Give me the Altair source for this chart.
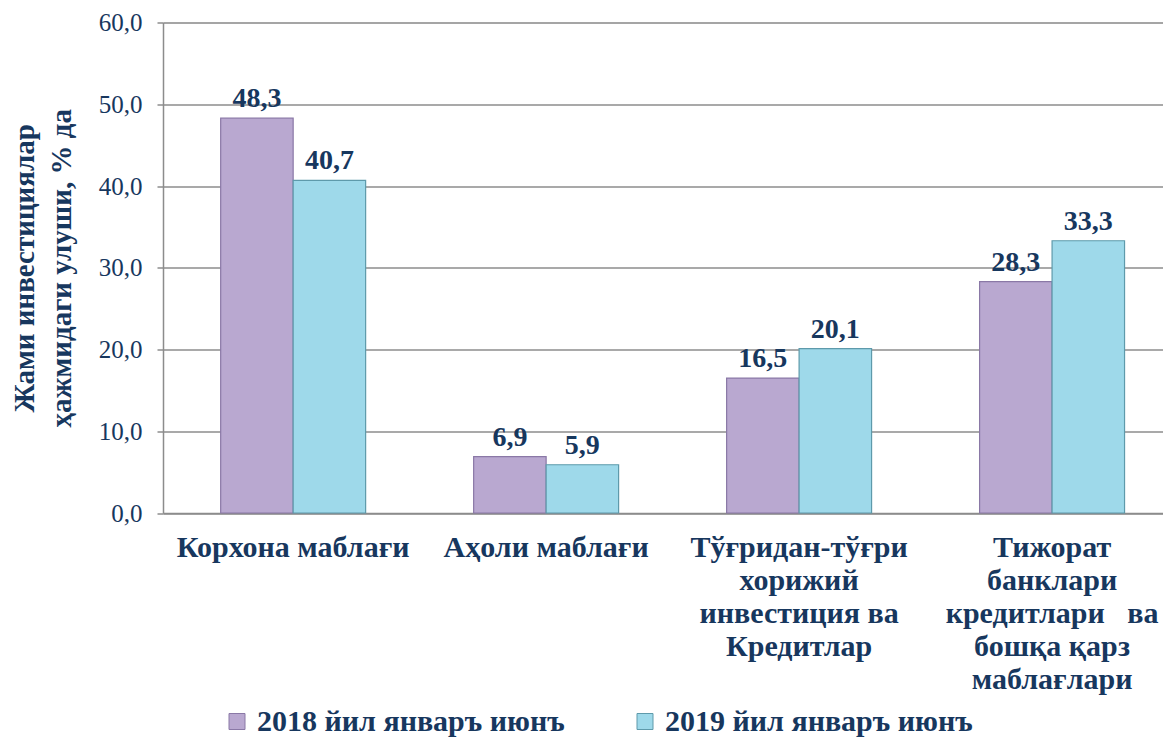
import altair as alt
import pandas as pd

categories = [
    "Корхона маблағи",
    "Аҳоли маблағи",
    "Тўғридан-тўғри|хорижий|инвестиция ва|Кредитлар",
    "Тижорат|банклари|кредитлари\u00a0\u00a0\u00a0ва|бошқа қарз|маблағлари",
]
series = ["2018 йил январъ июнъ", "2019 йил январъ июнъ"]
values_2018 = [48.3, 6.9, 16.5, 28.3]
values_2019 = [40.7, 5.9, 20.1, 33.3]
y_ticks = [0, 10, 20, 30, 40, 50, 60]
y_title = ["Жами инвестициялар", "ҳажмидаги улуши, % да"]

rows = []
for c, v in zip(categories, values_2018):
    rows.append({"category": c, "series": series[0], "value": v})
for c, v in zip(categories, values_2019):
    rows.append({"category": c, "series": series[1], "value": v})
df = pd.DataFrame(rows)

NAVY = "#17375E"
GRID = "#8C8C8C"
FONT = "'Liberation Serif', 'Times New Roman', 'DejaVu Serif', serif"
fills = ["#B9A8D0", "#9ED9EA"]
strokes = ["#8A78A6", "#5E9AAB"]

x_enc = alt.X(
    "category:N",
    sort=categories,
    scale=alt.Scale(paddingInner=0.427, paddingOuter=0.19, align=0.6),
    axis=alt.Axis(
        title=None,
        labelAngle=0,
        labelExpr="split(datum.label, '|')",
        labelFont=FONT,
        labelFontSize=30,
        labelFontWeight="bold",
        labelColor=NAVY,
        labelLineHeight=33,
        labelBaseline="top",
        labelPadding=19,
        labelLimit=400,
        ticks=False,
        domain=True,
        domainColor=GRID,
        domainWidth=1.5,
        grid=False,
    ),
)
y_enc = alt.Y(
    "value:Q",
    scale=alt.Scale(domain=[0, 60], nice=False),
    axis=alt.Axis(
        title=y_title,
        titleFont=FONT,
        titleFontSize=29,
        titleFontWeight="bold",
        titleColor=NAVY,
        titleLineHeight=37,
        titlePadding=22,
        values=y_ticks,
        labelExpr="replace(format(datum.value, '.1f'), '.', ',')",
        labelFont=FONT,
        labelFontSize=25,
        labelColor=NAVY,
        labelPadding=15,
        tickSize=6,
        tickColor=GRID,
        tickWidth=1.5,
        domainColor=GRID,
        domainWidth=1.5,
        grid=True,
        gridColor=GRID,
        gridWidth=1.5,
    ),
)
xoff = alt.XOffset("series:N", sort=series, scale=alt.Scale(paddingInner=0))

bars = alt.Chart(df).mark_bar(strokeWidth=1.2).encode(
    x=x_enc,
    y=y_enc,
    xOffset=xoff,
    color=alt.Color(
        "series:N",
        sort=series,
        scale=alt.Scale(domain=series, range=fills),
        legend=alt.Legend(
            title=None,
            orient="none",
            direction="horizontal",
            legendX=59,
            legendY=684,
            symbolType="square",
            symbolSize=256,
            symbolStrokeColor="#7F7F7F",
            symbolStrokeWidth=1,
            labelFont=FONT,
            labelFontSize=30,
            labelFontWeight="bold",
            labelColor=NAVY,
            labelOffset=5,
            labelLimit=500,
            columnPadding=65,
            padding=0,
        ),
    ),
    stroke=alt.Stroke(
        "series:N", sort=series, scale=alt.Scale(domain=series, range=strokes), legend=None
    ),
)

labels = (
    alt.Chart(df)
    .transform_calculate(label="replace(format(datum.value, '.1f'), '.', ',')")
    .mark_text(
        font=FONT,
        fontSize=28,
        fontWeight="bold",
        color=NAVY,
        baseline="alphabetic",
        dy=-11,
    )
    .encode(x=alt.X("category:N", sort=categories), y="value:Q", xOffset=xoff, text="label:N")
)

chart = (
    alt.layer(bars, labels)
    .properties(
        width=1000,
        height=490.5,
        autosize=alt.AutoSizeParams(type="none"),
        padding={"left": 155, "top": 14.5, "right": 0, "bottom": 226},
    )
    .configure_view(stroke=None)
    .configure(background="white")
)

chart.save("out.html", embed_options={"renderer": "svg", "actions": False})
